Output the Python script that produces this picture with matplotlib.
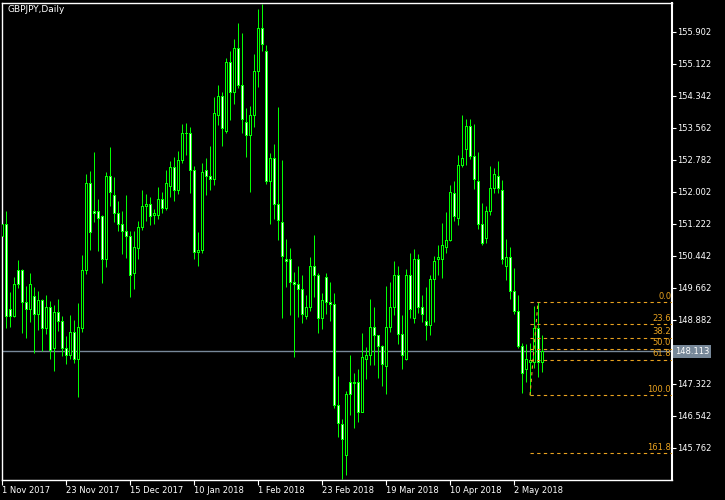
import matplotlib
matplotlib.use('Agg')
import matplotlib.pyplot as plt
import matplotlib.transforms as mtransforms
import numpy as np

title = "GBPJPY,Daily"

# daily OHLC (bar 0 = 1 Nov 2017)
opens = [150.90, 151.21, 149.12, 148.97, 150.07, 150.07, 149.31, 149.14, 149.44, 149.02,
         149.36, 148.66, 149.17, 148.19, 149.05, 148.83, 148.17, 148.00, 148.56, 147.92,
         148.66, 150.07, 152.19, 151.51, 151.51, 151.39, 150.34, 152.36, 151.92, 151.46,
         151.21, 151.02, 150.90, 150.02, 150.61, 151.12, 151.65, 151.68, 151.43, 151.43,
         151.82, 151.60, 152.12, 152.58, 152.04, 152.77, 153.43, 153.43, 152.53, 150.51,
         150.56, 152.51, 152.38, 152.31, 153.87, 154.31, 153.48, 155.14, 154.41, 155.48,
         154.60, 153.68, 153.36, 153.87, 154.94, 155.99, 155.41, 152.24, 152.80, 151.70,
         151.26, 150.34, 150.34, 149.78, 149.75, 149.63, 148.97, 149.19, 150.19, 149.97,
         148.92, 149.92, 149.31, 149.26, 146.78, 146.32, 145.58, 147.34, 147.34, 147.34,
         146.63, 147.90, 148.02, 148.68, 148.49, 148.22, 147.73, 148.70, 149.17, 149.95,
         148.51, 147.90, 149.95, 148.92, 150.36, 149.19, 148.83, 148.73, 149.85, 150.34,
         150.36, 150.63, 150.82, 151.95, 151.34, 152.65, 153.04, 153.58, 152.85, 152.26,
         151.21, 150.87, 151.53, 152.07, 152.38, 152.04, 150.19, 150.41, 149.58, 149.09,
         148.22, 147.66, 147.85, 147.85, 148.66, 147.85]
highs = [151.26, 151.53, 149.56, 149.92, 150.34, 150.12, 149.70, 150.02, 149.68, 149.58,
         149.39, 149.48, 149.34, 149.24, 149.39, 148.97, 148.49, 149.00, 148.88, 149.29,
         150.46, 152.43, 152.51, 152.97, 151.82, 151.43, 152.48, 153.09, 152.36, 151.78,
         151.53, 151.92, 151.04, 151.04, 151.29, 152.04, 151.95, 151.87, 151.58, 152.12,
         151.99, 152.53, 152.75, 152.85, 152.99, 153.65, 153.68, 153.58, 152.63, 151.02,
         152.70, 152.82, 153.12, 154.31, 154.60, 154.43, 155.26, 155.43, 155.72, 156.11,
         155.87, 154.04, 154.09, 155.36, 156.45, 156.58, 155.58, 152.95, 153.16, 154.07,
         152.77, 150.85, 150.63, 150.04, 150.19, 149.97, 149.48, 150.41, 150.95, 150.02,
         149.53, 150.02, 149.80, 149.53, 147.51, 146.46, 147.14, 148.02, 147.58, 147.68,
         148.56, 148.22, 149.39, 149.19, 148.51, 148.27, 149.70, 149.80, 150.31, 150.19,
         149.00, 150.12, 150.51, 150.61, 150.48, 149.48, 149.68, 149.97, 150.43, 150.70,
         151.24, 151.51, 152.17, 152.26, 152.90, 153.87, 153.77, 153.77, 153.65, 152.97,
         151.73, 151.65, 152.63, 152.58, 152.75, 152.29, 150.85, 150.65, 150.14, 149.48,
         148.31, 148.29, 148.31, 149.22, 149.314, 148.51]
lows = [150.82, 148.68, 148.70, 148.95, 149.65, 148.56, 148.44, 148.83, 148.07, 148.63,
        148.12, 148.53, 147.92, 147.63, 148.61, 148.00, 147.80, 147.92, 147.83, 147.00,
        148.58, 150.00, 150.58, 151.26, 150.56, 149.78, 150.17, 151.65, 151.26, 151.04,
        150.48, 150.39, 149.44, 149.63, 150.36, 151.07, 151.29, 151.19, 151.21, 151.34,
        151.48, 151.56, 151.87, 151.78, 151.95, 152.70, 152.90, 151.97, 150.36, 150.19,
        150.51, 151.92, 152.04, 152.17, 153.63, 153.12, 153.43, 153.75, 154.14, 154.53,
        153.43, 152.85, 151.99, 153.58, 154.55, 155.43, 152.19, 151.21, 151.34, 150.82,
        148.92, 149.68, 149.00, 147.97, 148.95, 148.80, 148.90, 149.09, 149.44, 148.56,
        148.66, 149.02, 148.85, 146.73, 146.02, 145.00, 145.10, 146.56, 146.24, 146.39,
        146.63, 147.44, 147.78, 147.78, 147.46, 147.27, 147.07, 148.58, 149.00, 148.29,
        147.68, 147.90, 148.92, 148.80, 149.05, 148.83, 148.39, 148.51, 148.83, 149.97,
        149.90, 150.51, 150.80, 151.29, 151.19, 152.60, 152.65, 152.80, 152.07, 151.09,
        150.70, 150.75, 151.43, 151.97, 151.97, 150.24, 149.85, 149.39, 149.02, 148.19,
        147.10, 147.36, 147.039, 147.71, 147.49, 147.61]
closes = [151.21, 148.97, 148.97, 149.75, 149.75, 149.31, 149.14, 149.73, 149.02, 149.36,
          148.66, 149.17, 148.14, 149.05, 148.83, 148.17, 148.00, 148.58, 147.92, 148.68,
          150.07, 152.19, 151.00, 151.48, 151.34, 150.34, 152.36, 151.99, 151.46, 151.21,
          151.02, 150.90, 149.97, 150.63, 151.12, 151.65, 151.68, 151.39, 151.48, 151.82,
          151.60, 152.19, 152.58, 152.04, 152.77, 153.43, 153.41, 152.53, 150.51, 150.56,
          152.46, 152.38, 152.31, 153.90, 154.33, 153.55, 155.14, 154.41, 155.48, 154.60,
          153.77, 153.36, 153.87, 154.94, 155.99, 155.58, 152.24, 152.80, 151.70, 151.31,
          150.43, 150.29, 149.78, 149.75, 149.63, 149.00, 149.19, 150.19, 149.97, 148.92,
          149.34, 149.31, 149.26, 146.78, 146.34, 145.97, 147.07, 147.07, 147.32, 146.63,
          147.95, 148.02, 148.68, 148.49, 148.22, 147.80, 148.70, 149.17, 149.95, 148.51,
          148.02, 149.97, 149.12, 150.36, 149.19, 149.00, 148.73, 149.85, 150.31, 150.39,
          150.68, 150.82, 151.97, 151.39, 152.65, 152.82, 153.58, 152.85, 152.29, 151.21,
          150.75, 151.53, 152.09, 152.41, 152.09, 150.34, 150.41, 149.58, 149.09, 148.22,
          147.56, 147.90, 147.88, 148.66, 147.85, 148.113]

date_labels = ['1 Nov 2017', '23 Nov 2017', '15 Dec 2017', '10 Jan 2018', '1 Feb 2018',
               '23 Feb 2018', '19 Mar 2018', '10 Apr 2018', '2 May 2018']
date_bars = [0, 16, 32, 48, 64, 80, 96, 112, 128]
price_ticks = [155.902, 155.122, 154.342, 153.562, 152.782, 152.002, 151.222, 150.442,
               149.662, 148.882, 147.322, 146.542, 145.762]

# fibonacci retracement: low bar -> high bar
fib_low_bar, fib_high_bar = 132, 134
fib_low, fib_high = 147.039, 149.314
fib_levels = [0.0, 23.6, 38.2, 50.0, 61.8, 100.0, 161.8]
bid = 148.113

green = '#00ff00'
orange = '#e9a21f'
slate = '#778899'

o = np.array(opens)
h = np.array(highs)
l = np.array(lows)
c = np.array(closes)
x = np.arange(len(o))

ymin, ymax = 144.987, 156.613
px = (ymax - ymin) / 477.0   # one pixel in price units

fig = plt.figure(figsize=(7.25, 5), dpi=100, facecolor='black')
# 4 px per bar, bar centres on whole pixels so wicks and bodies line up
ax = fig.add_axes([2 / 725, 20.5 / 500, 670 / 725, 477 / 500], facecolor='black')

# wicks, then a green box for each body with the white/black fill inside it
ax.vlines(x, l, h, color=green, lw=0.72, zorder=2)
lo = np.minimum(o, c)
hgt = np.abs(c - o)
ax.bar(x, hgt + px, bottom=lo - px / 2, width=0.75, color=green, linewidth=0, zorder=3)
fill = np.where(c < o, 'white', 'black')
inner = np.clip(hgt - px, 0, None)
ax.bar(x, inner, bottom=lo + px / 2, width=0.25, color=fill, linewidth=0, zorder=4)

# current price line
ax.axhline(bid, color=slate, lw=1, zorder=1)

# fibo levels
span = fib_high - fib_low
for lev in fib_levels:
    p = fib_high - lev / 100.0 * span
    ax.plot([fib_low_bar, 170], [p, p], color=orange, lw=0.8, ls=(0, (3, 3)), zorder=5)
    ax.text(167.3, p + 0.03, '%.1f' % lev, color=orange, fontsize=6, ha='right',
            va='bottom', zorder=6)
ax.plot([fib_low_bar, fib_high_bar], [fib_low, fib_high], color=orange, lw=0.8,
        ls=(0, (3, 3)), zorder=5)

ax.set_xlim(0, 167.5)
ax.set_ylim(ymin, ymax)

for s in ax.spines.values():
    s.set_color('white')
    s.set_linewidth(1)
ax.spines['right'].set_linewidth(1.5)

ax.yaxis.tick_right()
ax.set_yticks(price_ticks)
ax.set_yticklabels(['%.3f' % t for t in price_ticks])
ax.tick_params(axis='y', colors='white', direction='out', length=3, width=0.8,
               labelsize=6, pad=1)
ax.set_xticks(date_bars)
ax.set_xticklabels(date_labels, ha='left')
ax.tick_params(axis='x', colors='white', direction='out', length=3.5, width=0.8,
               labelsize=6, pad=1)

# bid price box on the axis
trans = mtransforms.blended_transform_factory(ax.transAxes, ax.transData)
ax.text(1.0045, bid, '%.3f' % bid, transform=trans, color='white', fontsize=6,
        ha='left', va='center', clip_on=False,
        bbox=dict(boxstyle='square,pad=0.25', fc=slate, ec='none'))

fig.text(7 / 725, 1 - 10 / 500, title, color='white', fontsize=6.5, ha='left', va='center')

plt.savefig('out.png', dpi=100, facecolor='black')
